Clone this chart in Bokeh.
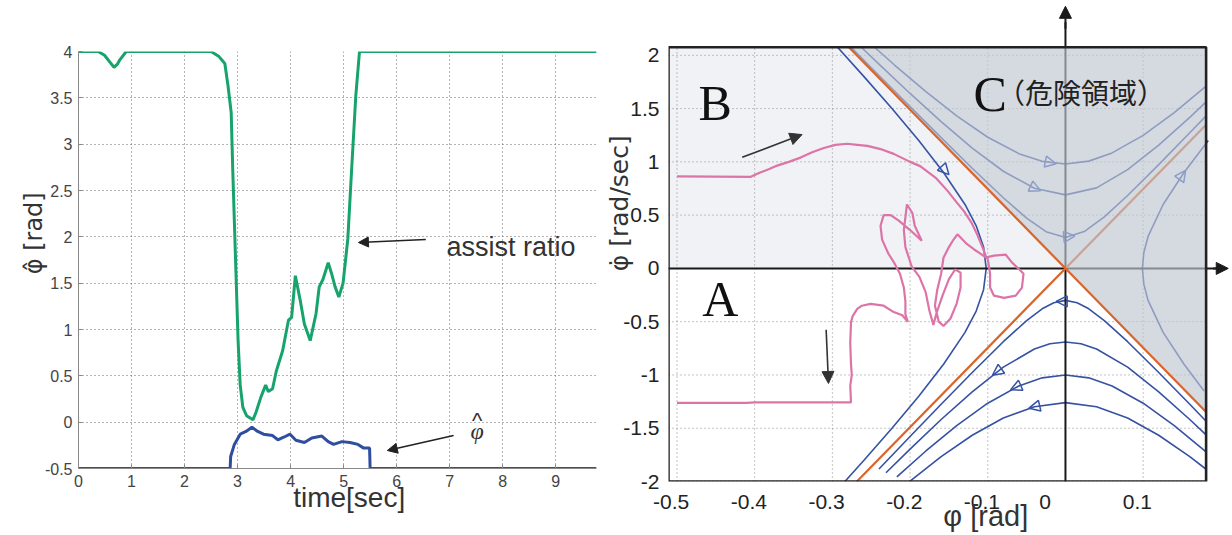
from math import pi
from bokeh.plotting import figure
from bokeh.layouts import row, column
from bokeh.models import Range1d, FixedTicker, Label, Arrow, NormalHead
from bokeh.embed import file_html
from bokeh.resources import INLINE

# ---------------- left chart data ----------------
t_ratio = [0, 0.37, 0.49, 0.6, 0.67, 0.73, 0.78, 0.9, 2.5, 2.65, 2.76, 2.82, 2.88, 2.91,
           2.97, 3.01, 3.05, 3.1, 3.17, 3.29, 3.35, 3.44, 3.53, 3.58, 3.66, 3.73, 3.85,
           3.96, 4.02, 4.09, 4.18, 4.26, 4.37, 4.48, 4.54, 4.61, 4.71, 4.77, 4.84, 4.91,
           4.99, 5.08, 5.15, 5.23, 5.3, 9.77]
assist_ratio = [4, 4, 3.96, 3.88, 3.83, 3.86, 3.91, 4.0, 4.0, 3.945, 3.87, 3.63, 3.34, 2.71,
                1.61, 0.88, 0.40, 0.16, 0.07, 0.025, 0.11, 0.27, 0.40, 0.33, 0.36, 0.55, 0.77,
                1.10, 1.13, 1.58, 1.32, 1.06, 0.88, 1.17, 1.46, 1.54, 1.72, 1.61, 1.46, 1.35,
                1.50, 1.98, 2.71, 3.52, 4.0, 4.0]
t_phi = [0, 2.86, 2.87, 2.94, 3.05, 3.16, 3.27, 3.38, 3.49, 3.66, 3.76, 3.88, 3.99, 4.1,
         4.26, 4.4, 4.59, 4.71, 4.81, 4.97, 5.12, 5.27, 5.38, 5.49, 5.50, 9.77]
phi_hat = [-0.5, -0.5, -0.37, -0.24, -0.13, -0.10, -0.055, -0.10, -0.13, -0.145, -0.19, -0.16,
           -0.13, -0.195, -0.22, -0.17, -0.15, -0.21, -0.24, -0.21, -0.22, -0.24, -0.28, -0.28,
           -0.5, -0.5]
left_xticks = [0, 1, 2, 3, 4, 5, 6, 7, 8, 9]
left_yticks = [-0.5, 0, 0.5, 1, 1.5, 2, 2.5, 3, 3.5, 4]
left_ylabels = ["-0.5", "0", "0.5", "1", "1.5", "2", "2.5", "3", "3.5", "4"]

# ---------------- right chart data ----------------
phi_ticks = [-0.5, -0.4, -0.3, -0.2, -0.1, 0, 0.1]
phi_labels = ["-0.5", "-0.4", "-0.3", "-0.2", "-0.1", "0", "0.1"]
om_ticks = [-2, -1.5, -1, -0.5, 0, 0.5, 1, 1.5, 2]
om_labels = ["-2", "-1.5", "-1", "-0.5", "0", "0.5", "1", "1.5", "2"]
sep_slope = 7.45

low_phi = [
    [-0.24, -0.20, -0.16, -0.12, -0.08, -0.05, -0.03, -0.015, 0, 0.015, 0.03, 0.05, 0.08, 0.12, 0.16, 0.181],
    [-0.231, -0.2, -0.16, -0.12, -0.08, -0.04, -0.02, 0, 0.02, 0.04, 0.08, 0.12, 0.16, 0.181],
    [-0.217, -0.18, -0.14, -0.10, -0.06, -0.03, 0, 0.03, 0.06, 0.10, 0.14, 0.181],
    [-0.2, -0.16, -0.12, -0.08, -0.04, 0, 0.04, 0.08, 0.12, 0.16, 0.181],
]
low_om = [
    [-1.883, -1.578, -1.275, -0.977, -0.688, -0.490, -0.379, -0.322, -0.30, -0.322, -0.379, -0.490, -0.688, -0.977, -1.275, -1.434],
    [-1.918, -1.696, -1.418, -1.158, -0.927, -0.756, -0.707, -0.69, -0.707, -0.756, -0.927, -1.158, -1.418, -1.563],
    [-1.956, -1.716, -1.475, -1.265, -1.103, -1.027, -1.0, -1.027, -1.103, -1.265, -1.475, -1.722],
    [-1.997, -1.767, -1.566, -1.404, -1.298, -1.26, -1.298, -1.404, -1.566, -1.767, -1.885],
]
up_phi = [
    [-0.2457, -0.22, -0.18, -0.14, -0.10, -0.06, -0.03, 0, 0.03, 0.06, 0.10, 0.14, 0.181],
    [-0.2628, -0.24, -0.20, -0.16, -0.12, -0.08, -0.04, 0, 0.04, 0.08, 0.12, 0.16, 0.181],
    [-0.2759, -0.24, -0.20, -0.16, -0.12, -0.08, -0.05, -0.025, 0, 0.025, 0.05, 0.08, 0.12, 0.16, 0.181],
]
up_om = [
    [2.076, 1.909, 1.661, 1.431, 1.231, 1.077, 1.005, 0.98, 1.007, 1.084, 1.249, 1.462, 1.711],
    [2.076, 1.917, 1.642, 1.377, 1.129, 0.912, 0.752, 0.69, 0.756, 0.927, 1.158, 1.418, 1.563],
    [2.076, 1.811, 1.518, 1.227, 0.940, 0.663, 0.472, 0.345, 0.29, 0.349, 0.484, 0.684, 0.974, 1.273, 1.432],
]
lh_om = [2.076, 1.8, 1.5, 1.2, 0.9, 0.6, 0.4, 0.2, 0, -0.2, -0.4, -0.6, -0.9, -1.2, -1.5, -1.8, -2.0]
lh_phi = [-0.2933, -0.2593, -0.2233, -0.1888, -0.1569, -0.1293, -0.1149, -0.1054, -0.102, -0.1054,
          -0.1149, -0.1293, -0.1569, -0.1888, -0.2233, -0.2593, -0.2839]
rh_om = [-1.15, -0.9, -0.6, -0.3, -0.15, 0, 0.15, 0.3, 0.6, 0.9, 1.2]
rh_phi = [0.1784, 0.1526, 0.1257, 0.1063, 0.1009, 0.099, 0.1009, 0.1063, 0.1257, 0.1526, 0.1838]

# flow direction marks: tail phi, tail omega, tip phi, tip omega, inside danger zone?
flow_marks = [
    (-0.165, 1.00, -0.150, 0.88, False),
    (-0.04, 1.024, -0.012, 0.982, True),
    (-0.06, 0.822, -0.032, 0.73, True),
    (-0.01, 0.292, 0.012, 0.304, True),
    (0.143, 0.80, 0.1546, 0.92, True),
    (0.012, -0.31, -0.012, -0.31, False),
    (-0.07, -0.877, -0.094, -1.003, False),
    (-0.05, -1.072, -0.0706, -1.138, False),
    (-0.025, -1.275, -0.047, -1.312, False),
]

traj_phi = [-0.5, -0.405, -0.393, -0.382, -0.371, -0.356, -0.341, -0.326, -0.311, -0.296, -0.281,
            -0.268, -0.255, -0.238, -0.221, -0.2, -0.187, -0.167, -0.152, -0.140, -0.131, -0.121,
            -0.114, -0.105, -0.102, -0.092, -0.077, -0.069, -0.058, -0.054, -0.056, -0.064, -0.079,
            -0.092, -0.097, -0.097, -0.100, -0.109, -0.118, -0.127, -0.139, -0.145, -0.150, -0.157,
            -0.160, -0.165, -0.168, -0.163, -0.157, -0.148, -0.140, -0.135, -0.135, -0.142, -0.150,
            -0.158, -0.166, -0.170, -0.175, -0.180, -0.188, -0.198, -0.206, -0.208, -0.204, -0.197,
            -0.194, -0.185, -0.200, -0.215, -0.225, -0.234, -0.238, -0.236, -0.228, -0.220, -0.213,
            -0.208, -0.206, -0.206, -0.203, -0.210, -0.221, -0.234, -0.251, -0.262, -0.268, -0.274,
            -0.276, -0.277, -0.276, -0.275, -0.277, -0.276, -0.40, -0.41, -0.5]
traj_om = [0.864, 0.860, 0.90, 0.93, 0.965, 1.0, 1.04, 1.09, 1.13, 1.16, 1.17,
           1.16, 1.15, 1.12, 1.075, 1.0, 0.96, 0.85, 0.73, 0.62, 0.54, 0.43,
           0.324, 0.167, 0.104, 0.12, 0.13, 0.057, -0.02, -0.05, -0.18, -0.256, -0.277,
           -0.256, -0.18, -0.05, 0.09, 0.136, 0.18, 0.23, 0.32, 0.26, 0.2, 0.10,
           -0.05, -0.20, -0.35, -0.50, -0.54, -0.47, -0.33, -0.18, -0.04, -0.01, -0.10,
           -0.25, -0.42, -0.53, -0.40, -0.22, -0.08, 0.02, 0.2, 0.36, 0.60, 0.52,
           0.40, 0.26, 0.36, 0.45, 0.50, 0.50, 0.40, 0.27, 0.14, 0.047, -0.05,
           -0.18, -0.31, -0.43, -0.50, -0.44, -0.41, -0.35, -0.333, -0.35, -0.38, -0.45,
           -0.506, -0.7, -0.9, -1.0, -1.1, -1.257, -1.257, -1.262, -1.262]

# ---------------- styles ----------------
SANS = "Liberation Sans"
SERIF = "Liberation Serif"
MARK = "DejaVu Sans"
TXT = "#333333"
GREEN = "#17A36C"
DBLUE = "#2F4E9F"
FAM = "#3552A3"
FAM_LIGHT = "#8E9CC9"
ORANGE = "#D9652B"
PINK = "#DD74A8"
NB = "\u00a0"

# ================= left figure =================
p1 = figure(width=598, height=535, x_range=Range1d(0, 9.77), y_range=Range1d(-0.5, 4),
            output_backend="svg", toolbar_location=None,
            min_border_left=78, min_border_right=2, min_border_top=51, min_border_bottom=67)
p1.outline_line_color = None
p1.xaxis.ticker = FixedTicker(ticks=left_xticks)
p1.yaxis.ticker = FixedTicker(ticks=left_yticks)
p1.yaxis.major_label_overrides = {v: s for v, s in zip(left_yticks, left_ylabels)}
p1.xaxis.major_label_overrides = {v: str(v) for v in left_xticks}
for ax in (p1.xaxis, p1.yaxis):
    ax.axis_line_color = "#888888"
    ax.major_tick_in = 4
    ax.major_tick_out = 0
    ax.major_tick_line_color = "#888888"
    ax.minor_tick_line_color = None
    ax.major_label_text_font = SANS
    ax.major_label_text_font_size = "16px"
    ax.major_label_text_color = "#444444"
    ax.major_label_standoff = 6
    ax.axis_label_text_font_style = "normal"
    ax.axis_label_text_color = TXT
p1.xaxis.axis_label = NB * 3 + "time[sec]"
p1.xaxis.axis_label_text_font = SANS
p1.xaxis.axis_label_text_font_size = "28px"
p1.xaxis.axis_label_standoff = -8
p1.yaxis.axis_label = NB * 7 + "φ\u0302 [rad]"
p1.yaxis.axis_label_text_font = MARK
p1.yaxis.axis_label_text_font_size = "24px"
p1.yaxis.axis_label_standoff = -6
p1.grid.grid_line_color = "#666666"
p1.grid.grid_line_dash = "1 3"
p1.grid.grid_line_width = 1

p1.line(t_ratio, assist_ratio, line_color=GREEN, line_width=3)
p1.line(t_phi, phi_hat, line_color=DBLUE, line_width=3)

p1.add_layout(Label(x=6.94, y=1.885, text="assist ratio", text_font=SANS, text_font_size="27px",
                    text_color=TXT, text_align="left", text_baseline="alphabetic"))
p1.add_layout(Arrow(x_start=6.55, y_start=1.971, x_end=5.28, y_end=1.939, line_color="#222222",
                    line_width=1.5, end=NormalHead(size=10, fill_color="#222222", line_color="#222222")))
p1.add_layout(Label(x=7.52, y=-0.10, text="φ", text_font=SERIF, text_font_style="italic",
                    text_font_size="24px", text_color=TXT, text_align="center", text_baseline="middle"))
p1.add_layout(Label(x=7.52, y=0.02, text="^", text_font=SANS,
                    text_font_size="22px", text_color=TXT, text_align="center", text_baseline="middle"))
p1.add_layout(Arrow(x_start=7.075, y_start=-0.144, x_end=5.825, y_end=-0.306, line_color="#222222",
                    line_width=1.5, end=NormalHead(size=10, fill_color="#222222", line_color="#222222")))

# ================= right figure =================
x_lo, x_hi = -0.5109, 0.181          # plotted box
y_lo, y_hi = -2.0, 2.076
p2 = figure(width=634, height=535, x_range=Range1d(x_lo, 0.2124), y_range=Range1d(y_lo, 2.477),
            output_backend="svg", toolbar_location=None,
            min_border_left=70, min_border_right=2, min_border_top=4, min_border_bottom=54)
p2.outline_line_color = None
p2.grid.visible = False
p2.xaxis.ticker = FixedTicker(ticks=phi_ticks)
p2.yaxis.ticker = FixedTicker(ticks=om_ticks)
p2.yaxis.major_label_overrides = {v: s for v, s in zip(om_ticks, om_labels)}
p2.xaxis.major_label_overrides = {v: s + NB * (7 if v == 0 else 2) for v, s in zip(phi_ticks, phi_labels)}
for ax in (p2.xaxis, p2.yaxis):
    ax.axis_line_color = None
    ax.major_tick_line_color = None
    ax.minor_tick_line_color = None
    ax.major_label_text_font = SANS
    ax.major_label_text_font_size = "21px"
    ax.major_label_text_color = "#222222"
    ax.major_label_standoff = 3
    ax.axis_label_text_font_style = "normal"
    ax.axis_label_text_color = TXT
p2.xaxis.major_label_standoff = 2
p2.xaxis.axis_label = NB * 10 + "φ  [rad]"
p2.xaxis.axis_label_text_font = SANS
p2.xaxis.axis_label_text_font_size = "29px"
p2.xaxis.axis_label_standoff = -16
p2.yaxis.axis_label = NB * 11 + "φ\u0307  [rad/sec]"
p2.yaxis.axis_label_text_font = MARK
p2.yaxis.axis_label_text_font_size = "25px"
p2.yaxis.axis_label_standoff = -14

ext_top = -y_hi / sep_slope
# region B (light)
p2.patch([x_lo, x_lo, ext_top, 0], [0, y_hi, y_hi, 0], fill_color="#F1F2F5", line_color=None)
# grid
p2.multi_line([[v, v] for v in phi_ticks], [[y_lo, y_hi] for _ in phi_ticks],
              line_color="#8A8A8A", line_dash="1 3", line_width=1)
p2.multi_line([[x_lo, x_hi] for _ in om_ticks], [[v, v] for v in om_ticks],
              line_color="#8A8A8A", line_dash="1 3", line_width=1)
# trajectories of the linear model
p2.multi_line(low_phi, low_om, line_color=FAM, line_width=1.6)
p2.multi_line(up_phi, up_om, line_color=FAM, line_width=1.6)
p2.line(lh_phi, lh_om, line_color=FAM, line_width=1.6)
p2.line(rh_phi, rh_om, line_color=FAM, line_width=1.6)
# coordinate axes
p2.segment(x0=[x_lo, 0], y0=[0, y_lo], x1=[0.196, 0], y1=[0, 2.31],
           line_color="#1A1A1A", line_width=2)
# unstable separatrix
p2.line([y_lo / sep_slope, x_hi], [y_lo, x_hi * sep_slope], line_color=ORANGE, line_width=2.2)
# measured trajectory
p2.line(traj_phi, traj_om, line_color=PINK, line_width=2.2)
# danger region C overlay
p2.patch([ext_top, x_hi, x_hi], [y_hi, y_hi, -x_hi * sep_slope],
         fill_color="#BFC5D0", fill_alpha=0.65, line_color=None)
# stable separatrix
p2.line([ext_top, x_hi], [y_hi, -x_hi * sep_slope], line_color=ORANGE, line_width=2.2)
# plot box
p2.line([x_lo, x_lo, x_hi, x_hi, x_lo], [y_lo, y_hi, y_hi, y_lo, y_lo],
        line_color="#222222", line_width=2.6)

for (xa, ya, xb, yb, danger) in flow_marks:
    col = FAM_LIGHT if danger else FAM
    p2.add_layout(Arrow(x_start=xa, y_start=ya, x_end=xb, y_end=yb, line_alpha=0,
                        end=NormalHead(size=11, fill_alpha=0, line_color=col, line_width=1.5)))

# black guide arrows
p2.add_layout(Arrow(x_start=-0.416, y_start=1.043, x_end=-0.339, y_end=1.256, line_color="#333333",
                    line_width=1.6, end=NormalHead(size=12, fill_color="#333333", line_color="#333333")))
p2.add_layout(Arrow(x_start=-0.308, y_start=-0.575, x_end=-0.305, y_end=-1.08, line_color="#333333",
                    line_width=1.6, end=NormalHead(size=12, fill_color="#333333", line_color="#333333")))

# arrow heads of the coordinate axes
p2.add_layout(Arrow(x_start=0, y_start=2.25, x_end=0, y_end=2.46, line_color="#1A1A1A", line_width=2,
                    end=NormalHead(size=12, fill_color="#1A1A1A", line_color="#1A1A1A")))
p2.add_layout(Arrow(x_start=0.19, y_start=0, x_end=0.2095, y_end=0, line_color="#1A1A1A", line_width=2,
                    end=NormalHead(size=12, fill_color="#1A1A1A", line_color="#1A1A1A")))

# region letters
p2.add_layout(Label(x=-0.4723, y=1.556, text="B", text_font=SERIF, text_font_size="50px",
                    text_color="#111111", text_align="left", text_baseline="alphabetic"))
p2.add_layout(Label(x=-0.4676, y=-0.29, text="A", text_font=SERIF, text_font_size="50px",
                    text_color="#111111", text_align="left", text_baseline="alphabetic"))
p2.add_layout(Label(x=-0.1184, y=1.641, text="C", text_font=SERIF, text_font_size="50px",
                    text_color="#111111", text_align="left", text_baseline="alphabetic"))
p2.add_layout(Label(x=-0.088, y=1.657, text="（危険領域）", text_font="Noto Sans CJK JP",
                    text_font_size="28px", text_color="#222222", text_align="left",
                    text_baseline="alphabetic"))

layout = row(column(p1), column(p2))
open("out.html", "w").write(file_html(layout, INLINE))
